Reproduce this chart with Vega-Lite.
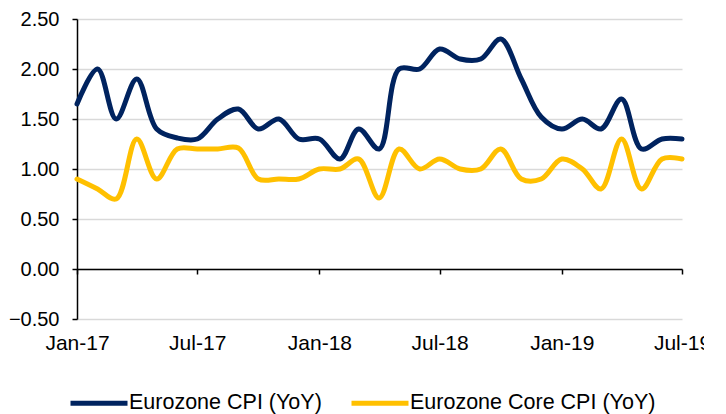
{
  "$schema": "https://vega.github.io/schema/vega-lite/v6.json",
  "width": 605,
  "height": 300,
  "autosize": {"type": "none"},
  "padding": {"left": 77, "top": 19, "right": 22, "bottom": 95},
  "background": "white",
  "config": {
    "view": {"stroke": null},
    "font": "Liberation Sans"
  },
  "data": {
    "values": [
      {"date": "2017-01-01T00:00", "series": "Eurozone CPI (YoY)", "value": 1.65},
      {"date": "2017-02-01T00:00", "series": "Eurozone CPI (YoY)", "value": 2.0},
      {"date": "2017-03-01T00:00", "series": "Eurozone CPI (YoY)", "value": 1.5},
      {"date": "2017-04-01T00:00", "series": "Eurozone CPI (YoY)", "value": 1.9},
      {"date": "2017-05-01T00:00", "series": "Eurozone CPI (YoY)", "value": 1.4},
      {"date": "2017-06-01T00:00", "series": "Eurozone CPI (YoY)", "value": 1.31},
      {"date": "2017-07-01T00:00", "series": "Eurozone CPI (YoY)", "value": 1.3},
      {"date": "2017-08-01T00:00", "series": "Eurozone CPI (YoY)", "value": 1.5},
      {"date": "2017-09-01T00:00", "series": "Eurozone CPI (YoY)", "value": 1.6},
      {"date": "2017-10-01T00:00", "series": "Eurozone CPI (YoY)", "value": 1.4},
      {"date": "2017-11-01T00:00", "series": "Eurozone CPI (YoY)", "value": 1.5},
      {"date": "2017-12-01T00:00", "series": "Eurozone CPI (YoY)", "value": 1.3},
      {"date": "2018-01-01T00:00", "series": "Eurozone CPI (YoY)", "value": 1.3},
      {"date": "2018-02-01T00:00", "series": "Eurozone CPI (YoY)", "value": 1.1},
      {"date": "2018-03-01T00:00", "series": "Eurozone CPI (YoY)", "value": 1.4},
      {"date": "2018-04-01T00:00", "series": "Eurozone CPI (YoY)", "value": 1.2},
      {"date": "2018-05-01T00:00", "series": "Eurozone CPI (YoY)", "value": 2.0},
      {"date": "2018-06-01T00:00", "series": "Eurozone CPI (YoY)", "value": 2.0},
      {"date": "2018-07-01T00:00", "series": "Eurozone CPI (YoY)", "value": 2.2},
      {"date": "2018-08-01T00:00", "series": "Eurozone CPI (YoY)", "value": 2.1},
      {"date": "2018-09-01T00:00", "series": "Eurozone CPI (YoY)", "value": 2.1},
      {"date": "2018-10-01T00:00", "series": "Eurozone CPI (YoY)", "value": 2.3},
      {"date": "2018-11-01T00:00", "series": "Eurozone CPI (YoY)", "value": 1.9},
      {"date": "2018-12-01T00:00", "series": "Eurozone CPI (YoY)", "value": 1.52},
      {"date": "2019-01-01T00:00", "series": "Eurozone CPI (YoY)", "value": 1.4},
      {"date": "2019-02-01T00:00", "series": "Eurozone CPI (YoY)", "value": 1.5},
      {"date": "2019-03-01T00:00", "series": "Eurozone CPI (YoY)", "value": 1.4},
      {"date": "2019-04-01T00:00", "series": "Eurozone CPI (YoY)", "value": 1.7},
      {"date": "2019-05-01T00:00", "series": "Eurozone CPI (YoY)", "value": 1.2},
      {"date": "2019-06-01T00:00", "series": "Eurozone CPI (YoY)", "value": 1.3},
      {"date": "2019-07-01T00:00", "series": "Eurozone CPI (YoY)", "value": 1.3},
      {"date": "2017-01-01T00:00", "series": "Eurozone Core CPI (YoY)", "value": 0.9},
      {"date": "2017-02-01T00:00", "series": "Eurozone Core CPI (YoY)", "value": 0.8},
      {"date": "2017-03-01T00:00", "series": "Eurozone Core CPI (YoY)", "value": 0.7},
      {"date": "2017-04-01T00:00", "series": "Eurozone Core CPI (YoY)", "value": 1.3},
      {"date": "2017-05-01T00:00", "series": "Eurozone Core CPI (YoY)", "value": 0.9},
      {"date": "2017-06-01T00:00", "series": "Eurozone Core CPI (YoY)", "value": 1.2},
      {"date": "2017-07-01T00:00", "series": "Eurozone Core CPI (YoY)", "value": 1.2},
      {"date": "2017-08-01T00:00", "series": "Eurozone Core CPI (YoY)", "value": 1.2},
      {"date": "2017-09-01T00:00", "series": "Eurozone Core CPI (YoY)", "value": 1.21},
      {"date": "2017-10-01T00:00", "series": "Eurozone Core CPI (YoY)", "value": 0.9},
      {"date": "2017-11-01T00:00", "series": "Eurozone Core CPI (YoY)", "value": 0.9},
      {"date": "2017-12-01T00:00", "series": "Eurozone Core CPI (YoY)", "value": 0.9},
      {"date": "2018-01-01T00:00", "series": "Eurozone Core CPI (YoY)", "value": 1.0},
      {"date": "2018-02-01T00:00", "series": "Eurozone Core CPI (YoY)", "value": 1.0},
      {"date": "2018-03-01T00:00", "series": "Eurozone Core CPI (YoY)", "value": 1.1},
      {"date": "2018-04-01T00:00", "series": "Eurozone Core CPI (YoY)", "value": 0.71},
      {"date": "2018-05-01T00:00", "series": "Eurozone Core CPI (YoY)", "value": 1.2},
      {"date": "2018-06-01T00:00", "series": "Eurozone Core CPI (YoY)", "value": 1.0},
      {"date": "2018-07-01T00:00", "series": "Eurozone Core CPI (YoY)", "value": 1.1},
      {"date": "2018-08-01T00:00", "series": "Eurozone Core CPI (YoY)", "value": 1.0},
      {"date": "2018-09-01T00:00", "series": "Eurozone Core CPI (YoY)", "value": 1.0},
      {"date": "2018-10-01T00:00", "series": "Eurozone Core CPI (YoY)", "value": 1.2},
      {"date": "2018-11-01T00:00", "series": "Eurozone Core CPI (YoY)", "value": 0.9},
      {"date": "2018-12-01T00:00", "series": "Eurozone Core CPI (YoY)", "value": 0.9},
      {"date": "2019-01-01T00:00", "series": "Eurozone Core CPI (YoY)", "value": 1.1},
      {"date": "2019-02-01T00:00", "series": "Eurozone Core CPI (YoY)", "value": 1.0},
      {"date": "2019-03-01T00:00", "series": "Eurozone Core CPI (YoY)", "value": 0.8},
      {"date": "2019-04-01T00:00", "series": "Eurozone Core CPI (YoY)", "value": 1.3},
      {"date": "2019-05-01T00:00", "series": "Eurozone Core CPI (YoY)", "value": 0.8},
      {"date": "2019-06-01T00:00", "series": "Eurozone Core CPI (YoY)", "value": 1.1},
      {"date": "2019-07-01T00:00", "series": "Eurozone Core CPI (YoY)", "value": 1.1}
    ]
  },
  "mark": {"type": "line", "interpolate": "catmull-rom", "strokeWidth": 5, "strokeCap": "round", "strokeJoin": "round"},
  "encoding": {
    "x": {
      "field": "date",
      "type": "temporal",
      "scale": {"domain": [{"year": 2017, "month": 1, "date": 1}, {"year": 2019, "month": 7, "date": 1}]},
      "axis": {
        "title": null,
        "offset": -50,
        "values": [
          {"year": 2017, "month": 1, "date": 1},
          {"year": 2017, "month": 7, "date": 1},
          {"year": 2018, "month": 1, "date": 1},
          {"year": 2018, "month": 7, "date": 1},
          {"year": 2019, "month": 1, "date": 1},
          {"year": 2019, "month": 7, "date": 1}
        ],
        "format": "%b-%y",
        "grid": false,
        "domainColor": "black",
        "domainWidth": 1.5,
        "tickColor": "black",
        "tickWidth": 1.5,
        "tickSize": 5,
        "labelPadding": 58,
        "labelFontSize": 21,
        "labelColor": "black",
        "labelFont": "Liberation Sans",
        "labelOverlap": false,
        "labelFlush": false,
        "labelBound": false
      }
    },
    "y": {
      "field": "value",
      "type": "quantitative",
      "scale": {"domain": [-0.5, 2.5], "nice": false, "zero": false},
      "axis": {
        "title": null,
        "values": [-0.5, 0, 0.5, 1, 1.5, 2, 2.5],
        "format": ".2f",
        "grid": true,
        "gridColor": "#d9d9d9",
        "gridWidth": 1.5,
        "domainColor": "black",
        "domainWidth": 1.5,
        "tickColor": "black",
        "tickWidth": 1.5,
        "tickSize": 5,
        "labelPadding": 13,
        "labelFontSize": 20,
        "labelColor": "black",
        "labelFont": "Liberation Sans",
        "labelFlush": false
      }
    },
    "color": {
      "field": "series",
      "type": "nominal",
      "scale": {"domain": ["Eurozone CPI (YoY)", "Eurozone Core CPI (YoY)"], "range": ["#00235F", "#FFC000"]},
      "legend": {
        "title": null,
        "orient": "none",
        "direction": "horizontal",
        "legendX": -9,
        "legendY": 353,
        "padding": 0,
        "symbolType": "stroke",
        "symbolSize": 3249,
        "symbolStrokeWidth": 5,
        "labelOffset": -1,
        "labelFontSize": 21.5,
        "labelColor": "black",
        "labelFont": "Liberation Sans",
        "labelLimit": 400,
        "columnPadding": 19
      }
    }
  }
}
